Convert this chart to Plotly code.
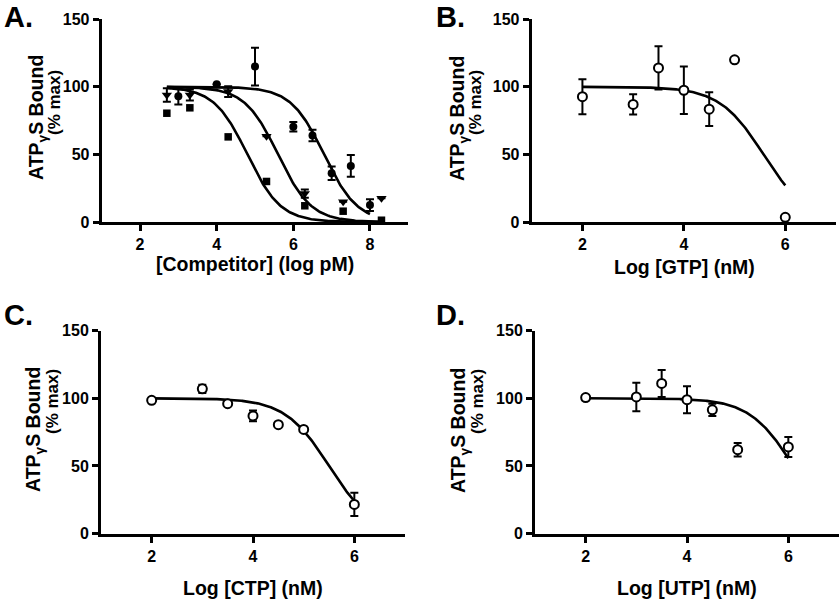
import numpy as np
import plotly.graph_objects as go

# ---------------- data ----------------
# Panel A: competitor curves
A_circle_x = [3, 4, 5, 6, 6.5, 7, 7.5, 8]
A_circle_y = [93, 102, 115, 70.5, 64, 36, 41.5, 12.5]
A_circle_err = [6, None, 14, 3.5, 4.3, 5, 8, 4.3]

A_tri_x = [2.7, 3.3, 4.3, 5.3, 6.3, 7.3, 8.3]
A_tri_y = [94, 94, 96.5, 63.5, 21, 15, 17.5]
A_tri_err = [5, 4, 4, None, 3, None, None]

A_sq_x = [2.7, 3.3, 4.3, 5.3, 6.3, 7.3, 8.3]
A_sq_y = [80.5, 84.5, 63, 30, 12, 8, 1.3]

# fitted one-site competition parameters (logIC50, Hill slope, x from, x to)
A_circle_fit = (6.8, 1.0, 2.7, 8.0)
A_tri_fit = (5.6, 1.0, 2.7, 8.3)
A_sq_fit = (4.8, 1.0, 2.7, 8.3)

# Panel B: GTP
B_x = [2, 3, 3.5, 4, 4.5, 5, 6]
B_y = [92.7, 87, 114, 97.5, 83.5, 120, 3.5]
B_err = [13, 7.5, 16, 17.5, 12.5, None, None]
B_fit = (5.57, 1.0, 2, 6)

# Panel C: CTP
C_x = [2, 3, 3.5, 4, 4.5, 5, 6]
C_y = [98.5, 107, 96, 87, 80.5, 77, 21.5]
C_err = [None, 3, None, 4, None, None, 8.6]
C_fit = (5.5, 1.0, 2, 6)

# Panel D: UTP
D_x = [2, 3, 3.5, 4, 4.5, 5, 6]
D_y = [100.5, 101, 111, 99, 91.5, 62, 64]
D_err = [2, 10.5, 10, 10, 4.5, 5, 7.4]
D_fit = (6.1, 1.0, 2, 6)

y_ticks = [0, 50, 100, 150]
A_xticks = [2, 4, 6, 8]
BCD_xticks = [2, 4, 6]

# ---------------- figure ----------------
W, H = 840, 602
FONT = "Liberation Sans, Arial, sans-serif"
fig = go.Figure()


def px_x(p):
    return p / W


def px_y(p):
    return 1 - p / H


def fit_curve(params):
    c, hill, x0, x1 = params
    xs = np.linspace(x0, x1, 200)
    ys = 100 / (1 + 10 ** (hill * (xs - c)))
    return xs, ys


def err(arr):
    return dict(type="data", array=[np.nan if v is None else v for v in arr],
                color="black", thickness=2, width=4, visible=True)


# panel geometry in pixels: (left, right, top, bottom)
panels = {
    "A": (101.7, 408.3, 19.3, 222.0, [1, 9], A_xticks),
    "B": (531.7, 836.0, 19.3, 222.0, [1, 7], BCD_xticks),
    "C": (101.0, 405.0, 330.7, 533.5, [1, 7], BCD_xticks),
    "D": (535.0, 839.0, 330.7, 533.5, [1, 7], BCD_xticks),
}
axis_ids = {"A": ("x", "y"), "B": ("x2", "y2"), "C": ("x3", "y3"), "D": ("x4", "y4")}
layout_names = {"A": ("xaxis", "yaxis"), "B": ("xaxis2", "yaxis2"),
                "C": ("xaxis3", "yaxis3"), "D": ("xaxis4", "yaxis4")}

tickfont = dict(family=FONT, size=16, color="black", weight="bold")
for k, (l, r, t, b, xr, xt) in panels.items():
    xa, ya = layout_names[k]
    xid, yid = axis_ids[k]
    fig.layout[xa] = dict(domain=[px_x(l), px_x(r)], range=xr, anchor=yid,
                          tickvals=xt, ticks="outside", ticklen=6, tickwidth=2.5,
                          tickcolor="black", showline=True, linewidth=3, linecolor="black",
                          showgrid=False, zeroline=False, tickfont=tickfont, fixedrange=True)
    fig.layout[ya] = dict(domain=[px_y(b), px_y(t)], range=[0, 150], anchor=xid,
                          tickvals=y_ticks, ticks="outside", ticklen=6, tickwidth=2.5,
                          tickcolor="black", showline=True, linewidth=3, linecolor="black",
                          showgrid=False, zeroline=False, tickfont=tickfont, fixedrange=True)

line_style = dict(color="black", width=2.6)

# Panel A
for params in (A_circle_fit, A_tri_fit, A_sq_fit):
    xs, ys = fit_curve(params)
    fig.add_trace(go.Scatter(x=xs, y=ys, mode="lines", line=line_style,
                             xaxis="x", yaxis="y", showlegend=False, hoverinfo="skip"))
fig.add_trace(go.Scatter(x=A_circle_x, y=A_circle_y, mode="markers", error_y=err(A_circle_err),
                         marker=dict(symbol="circle", size=8, color="black"),
                         xaxis="x", yaxis="y", showlegend=False, cliponaxis=False))
fig.add_trace(go.Scatter(x=A_tri_x, y=A_tri_y, mode="markers", error_y=err(A_tri_err),
                         marker=dict(symbol="triangle-down", size=9, color="black"),
                         xaxis="x", yaxis="y", showlegend=False, cliponaxis=False))
fig.add_trace(go.Scatter(x=A_sq_x, y=A_sq_y, mode="markers",
                         marker=dict(symbol="square", size=7.5, color="black"),
                         xaxis="x", yaxis="y", showlegend=False, cliponaxis=False))

# Panels B, C, D
for k, xs_, ys_, es_, fitp in (("B", B_x, B_y, B_err, B_fit),
                               ("C", C_x, C_y, C_err, C_fit),
                               ("D", D_x, D_y, D_err, D_fit)):
    xid, yid = axis_ids[k]
    cx, cy = fit_curve(fitp)
    fig.add_trace(go.Scatter(x=cx, y=cy, mode="lines", line=line_style,
                             xaxis=xid, yaxis=yid, showlegend=False, hoverinfo="skip"))
    fig.add_trace(go.Scatter(x=xs_, y=ys_, mode="markers", error_y=err(es_),
                             marker=dict(symbol="circle", size=9, color="white",
                                         line=dict(color="black", width=2)),
                             xaxis=xid, yaxis=yid, showlegend=False, cliponaxis=False))

# ---------------- text ----------------
ann = []
title_font = dict(family=FONT, size=19.5, color="black", weight="bold")
sub_font = dict(family=FONT, size=17, color="black", weight="bold")
letter_font = dict(family=FONT, size=29, color="black", weight="bold")

letters = [("A.", 2, 17), ("B.", 434, 17), ("C.", 2, 315), ("D.", 434, 315)]
for txt, x, y in letters:
    ann.append(dict(text=txt, x=px_x(x), y=px_y(y), xref="paper", yref="paper",
                    xanchor="left", yanchor="middle", showarrow=False, font=letter_font))

# (line-1 x, line-2 x, line-1 centre y, line-2 centre y)
ytitles = [(37, 55, 118, 103), (458, 476, 118, 103), (34, 52, 430, 402), (459, 477, 430, 402)]
for x1, x2, yc1, yc2 in ytitles:
    ann.append(dict(text="ATP<sub>γ</sub>S Bound", x=px_x(x1), y=px_y(yc1), xref="paper",
                    yref="paper", xanchor="center", yanchor="middle", textangle=-90,
                    showarrow=False, font=title_font))
    ann.append(dict(text="(% max)", x=px_x(x2), y=px_y(yc2), xref="paper",
                    yref="paper", xanchor="center", yanchor="middle", textangle=-90,
                    showarrow=False, font=sub_font))

xtitles = [("[Competitor] (log pM)", 255, 264), ("Log [GTP] (nM)", 684, 267),
           ("Log [CTP] (nM)", 253, 588), ("Log [UTP] (nM)", 687, 588)]
for txt, x, y in xtitles:
    ann.append(dict(text=txt, x=px_x(x), y=px_y(y), xref="paper", yref="paper",
                    xanchor="center", yanchor="middle", showarrow=False, font=title_font))

fig.update_layout(width=W, height=H, margin=dict(l=0, r=0, t=0, b=0, autoexpand=False),
                  autosize=False,
                  paper_bgcolor="white", plot_bgcolor="white", annotations=ann,
                  font=dict(family=FONT, color="black"))

fig.write_html("out.html", config={"responsive": False, "displayModeBar": False},
               post_script="document.body.style.margin='0';document.body.style.overflow='hidden';")
